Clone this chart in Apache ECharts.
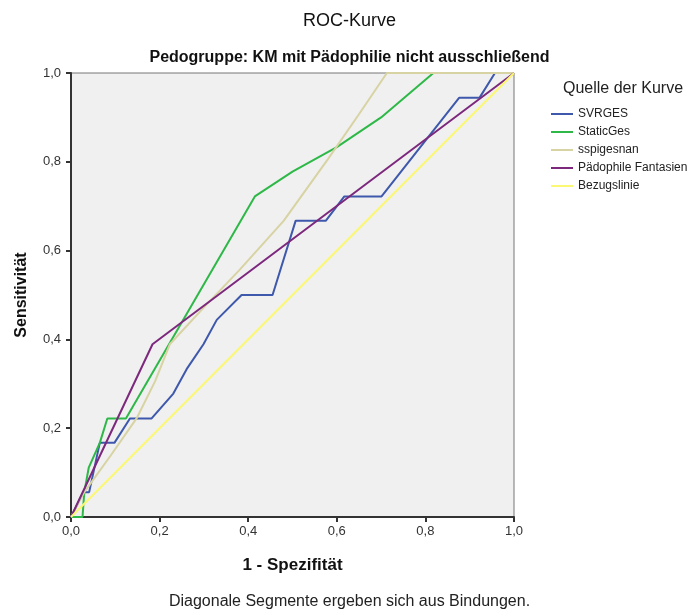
<!DOCTYPE html>
<html><head><meta charset="utf-8">
<script src="https://cdn.jsdelivr.net/npm/echarts@6/dist/echarts.min.js"></script>
<style>html,body{margin:0;padding:0;background:#fff}#c{width:699px;height:612px}</style>
</head><body><div id="c"></div>
<script>
// ---- data (1 - Spezifität, Sensitivität) ----
const seriesNames = ['SVRGES', 'StaticGes', 'sspigesnan', 'Pädophile Fantasien', 'Bezugslinie'];
const svrgesX = [0, 0.028, 0.041, 0.065, 0.098, 0.133, 0.182, 0.231, 0.261, 0.299, 0.329, 0.385, 0.455, 0.507, 0.575, 0.617, 0.701, 0.876, 0.922, 0.957, 1];
const svrgesY = [0, 0.056, 0.056, 0.167, 0.167, 0.222, 0.222, 0.278, 0.333, 0.389, 0.444, 0.5, 0.5, 0.667, 0.667, 0.722, 0.722, 0.944, 0.944, 1, 1];
const staticX = [0, 0.026, 0.03, 0.04, 0.065, 0.082, 0.124, 0.415, 0.5, 0.6, 0.7, 0.818, 1];
const staticY = [0, 0, 0.056, 0.111, 0.167, 0.222, 0.222, 0.722, 0.778, 0.833, 0.9, 1, 1];
const sspiX = [0, 0.03, 0.09, 0.148, 0.19, 0.223, 0.3, 0.38, 0.48, 0.58, 0.65, 0.713, 1];
const sspiY = [0, 0.056, 0.139, 0.222, 0.306, 0.389, 0.472, 0.556, 0.667, 0.806, 0.907, 1, 1];
const fantX = [0, 0.184, 1];
const fantY = [0, 0.389, 1];
const refX = [0, 1];
const refY = [0, 1];
const xTicks = [0, 0.2, 0.4, 0.6, 0.8, 1.0];
const yTicks = [0, 0.2, 0.4, 0.6, 0.8, 1.0];

const colors = ['#3e58ac', '#2eb848', '#d8d3a3', '#7c287d', '#fbf873'];
const xs = [svrgesX, staticX, sspiX, fantX, refX];
const ys = [svrgesY, staticY, sspiY, fantY, refY];
const FONT = '"Liberation Sans", Arial, sans-serif';

const chart = echarts.init(document.getElementById('c'), null, {renderer: 'canvas'});
const fmt = v => v.toFixed(1).replace('.', ',');
const axisCommon = {
  type: 'value', min: xTicks[0], max: xTicks[xTicks.length - 1], interval: 0.2,
  axisLine: {show: true, lineStyle: {color: '#333', width: 2}},
  axisTick: {show: true, length: 5, inside: false, lineStyle: {color: '#333', width: 2}},
  axisLabel: {formatter: fmt, color: '#333', fontFamily: FONT, fontSize: 13},
  splitLine: {show: false},
  nameLocation: 'middle',
  nameTextStyle: {fontFamily: FONT, fontSize: 17, fontWeight: 'bold', color: '#111'}
};
chart.setOption({
  animation: false,
  color: colors,
  grid: {left: 71, right: 185, top: 73, bottom: 95, show: true, backgroundColor: '#f0f0f0', borderColor: '#777', borderWidth: 1},
  xAxis: Object.assign({}, axisCommon, {name: '1 - Spezifität', nameGap: 40, axisLabel: Object.assign({}, axisCommon.axisLabel, {margin: 8})}),
  yAxis: Object.assign({}, axisCommon, {name: 'Sensitivität', nameGap: 41, nameTextStyle: Object.assign({}, axisCommon.nameTextStyle, {fontSize: 16}), axisLabel: Object.assign({}, axisCommon.axisLabel, {margin: 10})}),
  legend: {
    orient: 'vertical', left: 546, top: 102, itemWidth: 22, itemHeight: 2, itemGap: 4,
    icon: 'rect',
    textStyle: {fontFamily: FONT, fontSize: 12, color: '#222', lineHeight: 14},
    data: seriesNames
  },
  series: seriesNames.map((n, i) => ({
    name: n, type: 'line', showSymbol: false, symbol: 'none',
    lineStyle: {width: 2, color: colors[i]},
    itemStyle: {color: colors[i]},
    data: xs[i].map((x, k) => [x, ys[i][k]]),
    z: 2 + i
  })),
  graphic: [
    {type: 'text', left: 'center', top: 12, style: {text: 'ROC-Kurve', font: '18px ' + FONT, fill: '#111'}},
    {type: 'text', left: 'center', top: 50, style: {text: 'Pedogruppe: KM mit Pädophilie nicht ausschließend', font: 'bold 16px ' + FONT, fill: '#111'}},
    {type: 'text', left: 563, top: 81, style: {text: 'Quelle der Kurve', font: '16px ' + FONT, fill: '#222'}},
    {type: 'text', left: 'center', top: 594, style: {text: 'Diagonale Segmente ergeben sich aus Bindungen.', font: '16px ' + FONT, fill: '#222'}}
  ]
});
</script></body></html>
